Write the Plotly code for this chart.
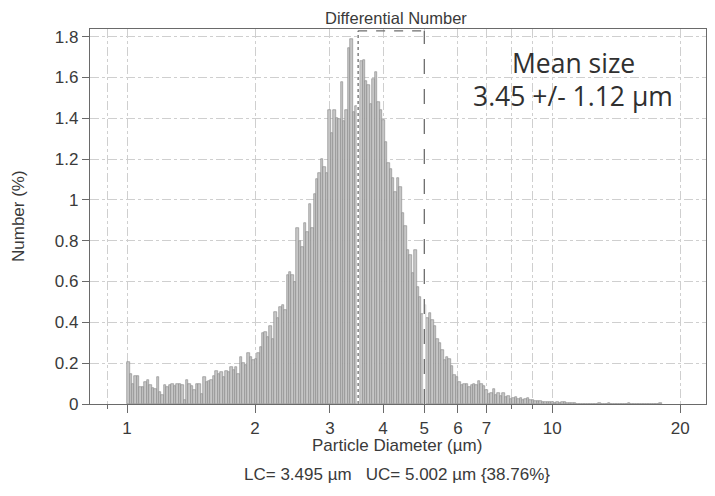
import math
import plotly.graph_objects as go

# Channel definition (Multisizer-style log channels, 1-30 µm over 256 channels)
D_MIN = 1.0
D_MAX = 30.0
N_CHANNELS = 256

# Number (%) per channel, grouped by diameter range
counts_1_to_2 = [0.207, 0.147, 0.10, 0.137, 0.137, 0.082, 0.085, 0.11, 0.118, 0.093,
                 0.077, 0.072, 0.134, 0.06, 0.044, 0.093, 0.082, 0.093, 0.10, 0.088,
                 0.097, 0.10, 0.093, 0.02, 0.118, 0.097, 0.088, 0.07, 0.10, 0.097,
                 0.05, 0.13, 0.11, 0.115, 0.12, 0.137, 0.163, 0.147, 0.158, 0.13,
                 0.163, 0.155, 0.18, 0.167, 0.18, 0.147, 0.23, 0.20, 0.19, 0.25,
                 0.23, 0.215, 0.22]
counts_2_to_3 = [0.25, 0.28, 0.35, 0.355, 0.33, 0.38, 0.32, 0.45, 0.42, 0.475,
                 0.485, 0.46, 0.63, 0.645, 0.63, 0.60, 0.86, 0.80, 0.77, 0.885,
                 0.845, 0.98, 0.86, 1.03, 1.10, 1.13, 1.20, 1.16, 1.13, 1.44, 1.33]
counts_3_to_5 = [1.44, 1.40, 1.395, 1.575, 1.385, 1.44, 1.745, 1.79, 1.43, 1.46,
                 1.50, 1.68, 1.685, 1.58, 1.565, 1.47, 1.59, 1.625, 1.48, 1.44,
                 1.39, 1.285, 1.18, 1.15, 1.105, 1.04, 1.105, 1.065, 0.935, 0.87,
                 0.755, 0.73, 0.64, 0.755, 0.575, 0.525, 0.44, 0.485]
counts_5_to_10 = [0.42, 0.445, 0.41, 0.38, 0.32, 0.30, 0.265, 0.215, 0.23, 0.22,
                  0.185, 0.14, 0.13, 0.11, 0.093, 0.10, 0.098, 0.085, 0.093, 0.096,
                  0.093, 0.114, 0.098, 0.09, 0.069, 0.049, 0.052, 0.072, 0.044, 0.052,
                  0.039, 0.052, 0.033, 0.039, 0.025, 0.028, 0.036, 0.023, 0.028, 0.02,
                  0.025, 0.028, 0.018, 0.02, 0.013, 0.015, 0.015, 0.01, 0.012, 0.012,
                  0.008, 0.009, 0.007]
counts_10_to_20 = [0.009, 0.006, 0.01, 0.008, 0.005, 0.007, 0.004, 0.006,
                   0, 0, 0, 0, 0, 0, 0, 0, 0, 0.004, 0, 0, 0, 0.004,
                   0, 0, 0, 0, 0, 0, 0, 0.004, 0, 0, 0, 0, 0, 0, 0, 0, 0, 0, 0, 0, 0.004]

# Axis ticks
major_ticks = [1, 2, 3, 4, 5, 6, 7, 10, 20]
minor_ticks = [0.9, 8, 9]
y_ticks = [0, 0.2, 0.4, 0.6, 0.8, 1, 1.2, 1.4, 1.6, 1.8]
x_min, x_max = 0.818, 23.0
y_max = 1.837

# Limits
LC = 3.495
UC = 5.002
mean_text = ["Mean size", "3.45 +/- 1.12 µm"]

values = counts_1_to_2 + counts_2_to_3 + counts_3_to_5 + counts_5_to_10 + counts_10_to_20
w = math.log10(D_MAX / D_MIN) / N_CHANNELS
x_log = [math.log10(D_MIN) + (i + 0.5) * w for i in range(len(values))]

fig = go.Figure()
fig.add_trace(go.Bar(
    x=x_log, y=values, width=[w] * len(values),
    marker=dict(color="#c6c6c6", line=dict(color="#858585", width=0.6)),
    hoverinfo="skip", showlegend=False,
))

grid_col = "#cfcfcf"
txt_col = "#3a3a3a"
axis_col = "#6a6a6a"
font_family = "Liberation Sans, Arial, sans-serif"

# page body has an 8px default margin; figure sized to fit the 715x496 window
FIG_W, FIG_H = 699, 480
fig.update_layout(
    width=FIG_W, height=FIG_H,
    margin=dict(l=82, r=1, t=21, b=84, autoexpand=False),
    paper_bgcolor="white", plot_bgcolor="white",
    bargap=0,
    font=dict(family=font_family, size=17, color=txt_col),
    showlegend=False,
)
fig.update_xaxes(
    type="linear",
    range=[math.log10(x_min), math.log10(x_max)],
    tickmode="array",
    tickvals=[math.log10(v) for v in major_ticks],
    ticktext=[str(v) for v in major_ticks],
    ticks="outside", ticklen=8, tickcolor=axis_col, tickwidth=1,
    showgrid=True, gridcolor=grid_col, griddash="dashdot", gridwidth=1,
    minor=dict(tickmode="array", tickvals=[math.log10(v) for v in minor_ticks],
               ticks="outside", ticklen=4, tickcolor=axis_col,
               showgrid=True, gridcolor=grid_col, griddash="dashdot"),
    showline=True, linecolor=axis_col, linewidth=1.2, mirror=True,
    zeroline=False,
    tickfont=dict(size=17, color=txt_col),
)
fig.update_yaxes(
    range=[0, y_max],
    tickmode="array", tickvals=y_ticks, ticktext=[f"{v:g}" for v in y_ticks],
    ticks="outside", ticklen=7, tickcolor=axis_col,
    showgrid=True, gridcolor=grid_col, griddash="dashdot", gridwidth=1,
    showline=True, linecolor=axis_col, linewidth=1.2, mirror=True,
    zeroline=False,
    tickfont=dict(size=17, color=txt_col),
)

lc_x = math.log10(LC)
uc_x = math.log10(UC)
top_y = 1.828
for xx, dash in ((lc_x, "dot"), (uc_x, "longdash")):
    fig.add_shape(type="line", xref="x", yref="y", x0=xx, x1=xx, y0=0, y1=top_y,
                  line=dict(color="white", width=2.5), layer="above")
    fig.add_shape(type="line", xref="x", yref="y", x0=xx, x1=xx, y0=0, y1=top_y,
                  line=dict(color="#6e6e6e", width=1.3, dash=dash), layer="above")
fig.add_shape(type="line", xref="x", yref="y", x0=lc_x, x1=uc_x, y0=top_y, y1=top_y,
              line=dict(color="#6e6e6e", width=1.2, dash="dash"), layer="above")

# positions in page pixels converted to paper coordinates of the plot area (90..706, 29..404)
def px(xp):
    return (xp - 90) / 616.0


def py(yp):
    return (404 - yp) / 375.0


ann = [
    dict(text="Differential Number", x=px(396), y=py(18.5),
         font=dict(size=16.5, color=txt_col)),
    dict(text="Number (%)", x=px(18), y=py(216), textangle=-90,
         font=dict(size=17, color=txt_col)),
    dict(text="Particle Diameter (µm)", x=px(397), y=py(445),
         font=dict(size=17, color=txt_col)),
    dict(text="LC= 3.495 µm   UC= 5.002 µm {38.76%}", x=px(397), y=py(474),
         font=dict(size=17, color=txt_col)),
    dict(text=mean_text[0], x=px(573), y=py(63),
         font=dict(family="Open Sans, sans-serif", size=26.5, color="#303030")),
    dict(text=mean_text[1], x=px(573), y=py(96),
         font=dict(family="Open Sans, sans-serif", size=26.5, color="#303030")),
]
for a in ann:
    a.update(showarrow=False, xref="paper", yref="paper", xanchor="center", yanchor="middle")
    fig.add_annotation(**a)

fig.write_html("out.html")
